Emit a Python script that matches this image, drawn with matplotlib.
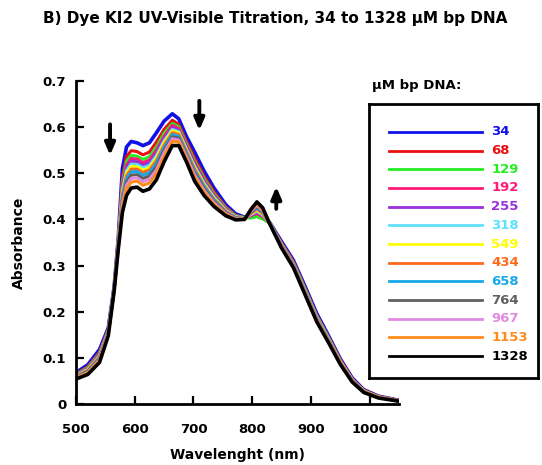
import matplotlib
matplotlib.use("Agg")

import matplotlib.pyplot as plt

# wavelength grid (nm)
wl = [500, 520, 540, 555, 565, 572, 579, 586, 594, 604, 614, 625, 637, 650, 664, 675, 688, 702, 718,
      735, 755, 772, 787, 798, 808, 818, 830, 850, 870, 890, 910, 930, 950, 970, 990, 1015, 1050]

# uM bp DNA concentrations, in the order of the legend
conc = ["34", "68", "129", "192", "255", "318", "549", "434", "658", "764", "967", "1153", "1328"]

a34 = [.068, .085, .118, .165, .255, .360, .510, .557, .569, .566, .560, .566, .588, .613, .629, .618, .580, .546, .505,
       .468, .432, .412, .405, .406, .410, .404, .393, .352, .312, .255, .196, .148, .098, .057, .031, .017, .008]
a68 = [.065, .081, .112, .162, .253, .355, .491, .536, .549, .547, .540, .546, .568, .595, .615, .606, .569, .533, .494,
       .460, .427, .409, .404, .405, .409, .403, .392, .349, .309, .251, .192, .145, .096, .055, .030, .016, .008]
a129 = [.064, .079, .110, .160, .252, .353, .482, .526, .539, .537, .530, .536, .557, .587, .608, .601, .564, .527, .489,
        .456, .425, .408, .404, .403, .406, .401, .392, .348, .307, .250, .191, .144, .094, .054, .029, .016, .007]
a192 = [.063, .077, .108, .159, .251, .351, .475, .518, .532, .531, .523, .529, .550, .580, .604, .597, .560, .523, .485,
        .453, .423, .407, .403, .408, .413, .406, .392, .347, .306, .248, .189, .142, .094, .054, .029, .016, .007]
a255 = [.062, .076, .106, .158, .251, .349, .469, .512, .526, .525, .517, .523, .544, .575, .599, .593, .556, .519, .482,
        .451, .422, .406, .403, .409, .416, .408, .392, .346, .305, .247, .188, .142, .093, .053, .028, .015, .007]
a318 = [.061, .075, .104, .157, .250, .348, .463, .506, .520, .519, .512, .517, .538, .570, .595, .590, .553, .515, .479,
        .448, .420, .406, .403, .411, .418, .410, .392, .345, .304, .246, .187, .141, .092, .053, .028, .015, .007]
a549 = [.060, .074, .103, .156, .250, .347, .459, .500, .515, .514, .507, .512, .533, .566, .592, .587, .550, .512, .476,
        .446, .419, .405, .402, .412, .420, .411, .391, .344, .303, .245, .186, .140, .092, .052, .028, .015, .007]
a434 = [.060, .073, .102, .155, .249, .345, .454, .495, .509, .509, .502, .507, .528, .561, .588, .584, .548, .509, .474,
        .444, .418, .404, .402, .413, .422, .413, .391, .344, .303, .244, .185, .139, .091, .052, .027, .015, .007]
a658 = [.059, .071, .100, .154, .249, .344, .448, .489, .503, .504, .496, .501, .522, .556, .584, .580, .544, .505, .471,
        .442, .416, .404, .402, .415, .425, .415, .391, .343, .302, .243, .184, .138, .090, .051, .027, .014, .007]
a764 = [.058, .070, .098, .153, .248, .342, .442, .481, .496, .497, .489, .494, .515, .550, .579, .576, .540, .501, .467,
        .439, .415, .403, .401, .416, .428, .417, .391, .342, .300, .242, .183, .137, .089, .051, .027, .014, .007]
a967 = [.057, .068, .096, .152, .247, .340, .435, .474, .489, .490, .482, .487, .507, .544, .575, .572, .537, .496, .463,
        .436, .413, .402, .401, .418, .431, .419, .391, .341, .299, .241, .182, .136, .089, .050, .026, .014, .006]
a1153 = [.056, .067, .094, .150, .246, .338, .427, .466, .481, .483, .474, .479, .499, .536, .569, .568, .532, .491, .459,
         .433, .411, .401, .401, .420, .434, .421, .390, .340, .298, .239, .180, .135, .088, .049, .026, .014, .006]
a1328 = [.054, .064, .090, .148, .245, .335, .415, .452, .468, .470, .461, .466, .486, .525, .560, .560, .525, .483, .452,
         .428, .408, .399, .400, .422, .438, .425, .390, .338, .296, .237, .178, .133, .086, .048, .025, .013, .006]

series = [a34, a68, a129, a192, a255, a318, a549, a434, a658, a764, a967, a1153, a1328]
colors = ["#1010e8", "#e81010", "#22ee22", "#ff1a78", "#9a30d8", "#5ee0ff", "#ffff00",
          "#ff6a1a", "#18a8e8", "#606060", "#e08ae0", "#ff8c1a", "#000000"]

fig = plt.figure(figsize=(5.42, 4.65), dpi=100)
ax = fig.add_axes([0.1402, 0.1312, 0.596, 0.6946])

for i, (y, c) in enumerate(zip(series, colors)):
    w = 2.6 if i in (0, len(series) - 1) else 2.2
    ax.plot(wl, y, color=c, lw=w, solid_capstyle="round", solid_joinstyle="round")

ax.set_xlim(500, 1050)
ax.set_ylim(0, 0.7)
ax.set_xticks([500, 600, 700, 800, 900, 1000])
ax.set_yticks([0, 0.1, 0.2, 0.3, 0.4, 0.5, 0.6, 0.7])
ax.set_yticklabels(["0", "0.1", "0.2", "0.3", "0.4", "0.5", "0.6", "0.7"])
ax.spines["top"].set_visible(False)
ax.spines["right"].set_visible(False)
for s in ["left", "bottom"]:
    ax.spines[s].set_linewidth(2)
ax.tick_params(axis="both", direction="in", length=6, width=1.6, labelsize=9.5)
ax.tick_params(axis="x", pad=14)
ax.tick_params(axis="y", pad=7)
for lab in ax.get_xticklabels() + ax.get_yticklabels():
    lab.set_fontweight("bold")
ax.set_xlabel("Wavelenght (nm)", fontsize=10, fontweight="bold", labelpad=8)
ax.set_ylabel("Absorbance", fontsize=10, fontweight="bold", labelpad=12)

# arrows showing the direction of change
arrow = dict(arrowstyle="-|>,head_width=0.3,head_length=0.7", color="black", lw=2.8)
ax.annotate("", xy=(558, 0.533), xytext=(558, 0.612), arrowprops=arrow)
ax.annotate("", xy=(710, 0.587), xytext=(710, 0.663), arrowprops=arrow)
ax.annotate("", xy=(841, 0.477), xytext=(841, 0.417), arrowprops=arrow)

fig.text(0.079, 0.961, "B) Dye KI2 UV-Visible Titration, 34 to 1328 \u00b5M bp DNA",
         fontsize=11, fontweight="bold", va="center")

# legend box
lg = fig.add_axes([0.681, 0.187, 0.312, 0.589])
lg.set_xlim(0, 169)
lg.set_ylim(274, 0)
lg.set_xticks([])
lg.set_yticks([])
for s in lg.spines.values():
    s.set_linewidth(2)
for i, (lab, c) in enumerate(zip(conc, colors)):
    yy = 27.7 + i * 18.7
    lg.plot([20, 113], [yy, yy], color=c, lw=2)
    lg.text(122, yy, lab, color=c, fontsize=9.5, fontweight="bold", va="center")
fig.text(0.686, 0.817, "\u00b5M bp DNA:", fontsize=9.5, fontweight="bold", va="center")

fig.savefig("out.png", dpi=100)
